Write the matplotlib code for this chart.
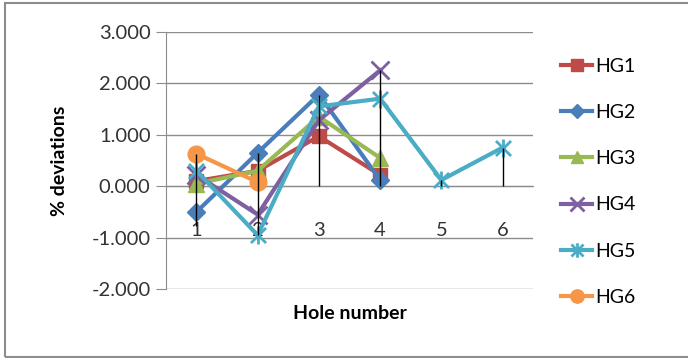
import numpy as np
import matplotlib.pyplot as plt
from matplotlib.path import Path
from matplotlib.patches import Rectangle

plt.rcParams['font.family'] = ['Lato', 'DejaVu Sans']

holes = [1, 2, 3, 4, 5, 6]
nan = np.nan
hg1 = [0.10, 0.30, 0.97, 0.22, nan, nan]
hg2 = [-0.50, 0.65, 1.78, 0.12, nan, nan]
hg3 = [0.05, 0.30, 1.35, 0.55, nan, nan]
hg4 = [0.22, -0.55, 1.28, 2.25, nan, nan]
hg5 = [0.30, -0.95, 1.55, 1.70, 0.12, 0.75]
hg6 = [0.63, 0.08, nan, nan, nan, nan]
line_low = [-0.78, -0.95, 0.0, 0.0, 0.0, 0.0]
line_high = [0.63, 0.65, 1.77, 2.25, 0.12, 0.75]
y_ticks = [-2, -1, 0, 1, 2, 3]

# star marker like Excel's (x plus vertical bar)
star = Path([(-1, -1), (1, 1), (-1, 1), (1, -1), (0, -1.2), (0, 1.2)],
            [Path.MOVETO, Path.LINETO, Path.MOVETO, Path.LINETO, Path.MOVETO, Path.LINETO])

series = [
    ('HG1', hg1, '#BE4B48', 's', 10),
    ('HG2', hg2, '#4A7EBB', 'D', 9),
    ('HG3', hg3, '#98B954', '^', 11),
    ('HG4', hg4, '#7D60A0', 'x', 13),
    ('HG5', hg5, '#4BACC6', star, 13),
    ('HG6', hg6, '#F79646', 'o', 12),
]

fig = plt.figure(figsize=(6.88, 3.58), dpi=100)
ax = fig.add_axes([0.241, 0.192, 0.534, 0.7195])

for i, (name, vals, col, mk, ms) in enumerate(series):
    ax.plot(holes, vals, color=col, lw=3, marker=mk, markersize=ms,
            markeredgewidth=2 if mk in ('x',) or mk is star else 1,
            markeredgecolor=col, markerfacecolor=col, label=name, zorder=3 + i)

ax.vlines(holes, line_low, line_high, color='black', lw=1, zorder=20)

for s in ['top', 'right']:
    ax.spines[s].set_visible(False)
ax.spines['left'].set_color('#8c8c8c')
ax.spines['bottom'].set_position(('data', 0))
ax.spines['bottom'].set_color('#8c8c8c')

ax.set_xlim(0.5, 6.5)
ax.set_ylim(-2, 3)
ax.set_yticks(y_ticks)
ax.set_yticklabels(['%.3f' % v for v in y_ticks])
ax.set_xticks(holes)
ax.set_xticklabels([str(h) for h in holes])
ax.grid(axis='y', color='#8c8c8c', lw=1, zorder=0)
ax.set_axisbelow(True)

ax.tick_params(axis='x', length=0, pad=26, labelsize=14.5, labelcolor='#333333')
ax.tick_params(axis='y', length=7, color='#8c8c8c', pad=4, labelsize=14.5, labelcolor='#333333')

ax.set_ylabel('% deviations', fontsize=14, fontweight='bold', labelpad=17)
ax.set_xlabel('Hole number', fontsize=14, fontweight='bold')
ax.xaxis.set_label_coords(0.5, -0.06)

leg = fig.legend(loc='upper left', bbox_to_anchor=(0.79, 0.887), frameon=False,
                 fontsize=14, handlelength=1.6, handletextpad=0.15,
                 labelspacing=1.5, markerscale=0.8)

fig.patches.append(Rectangle((5 / 688, 1 / 358), 1.2, 354 / 358, transform=fig.transFigure,
                             fill=False, edgecolor='#8c8c8c', lw=1.5))

fig.savefig('out.png', dpi=100)
